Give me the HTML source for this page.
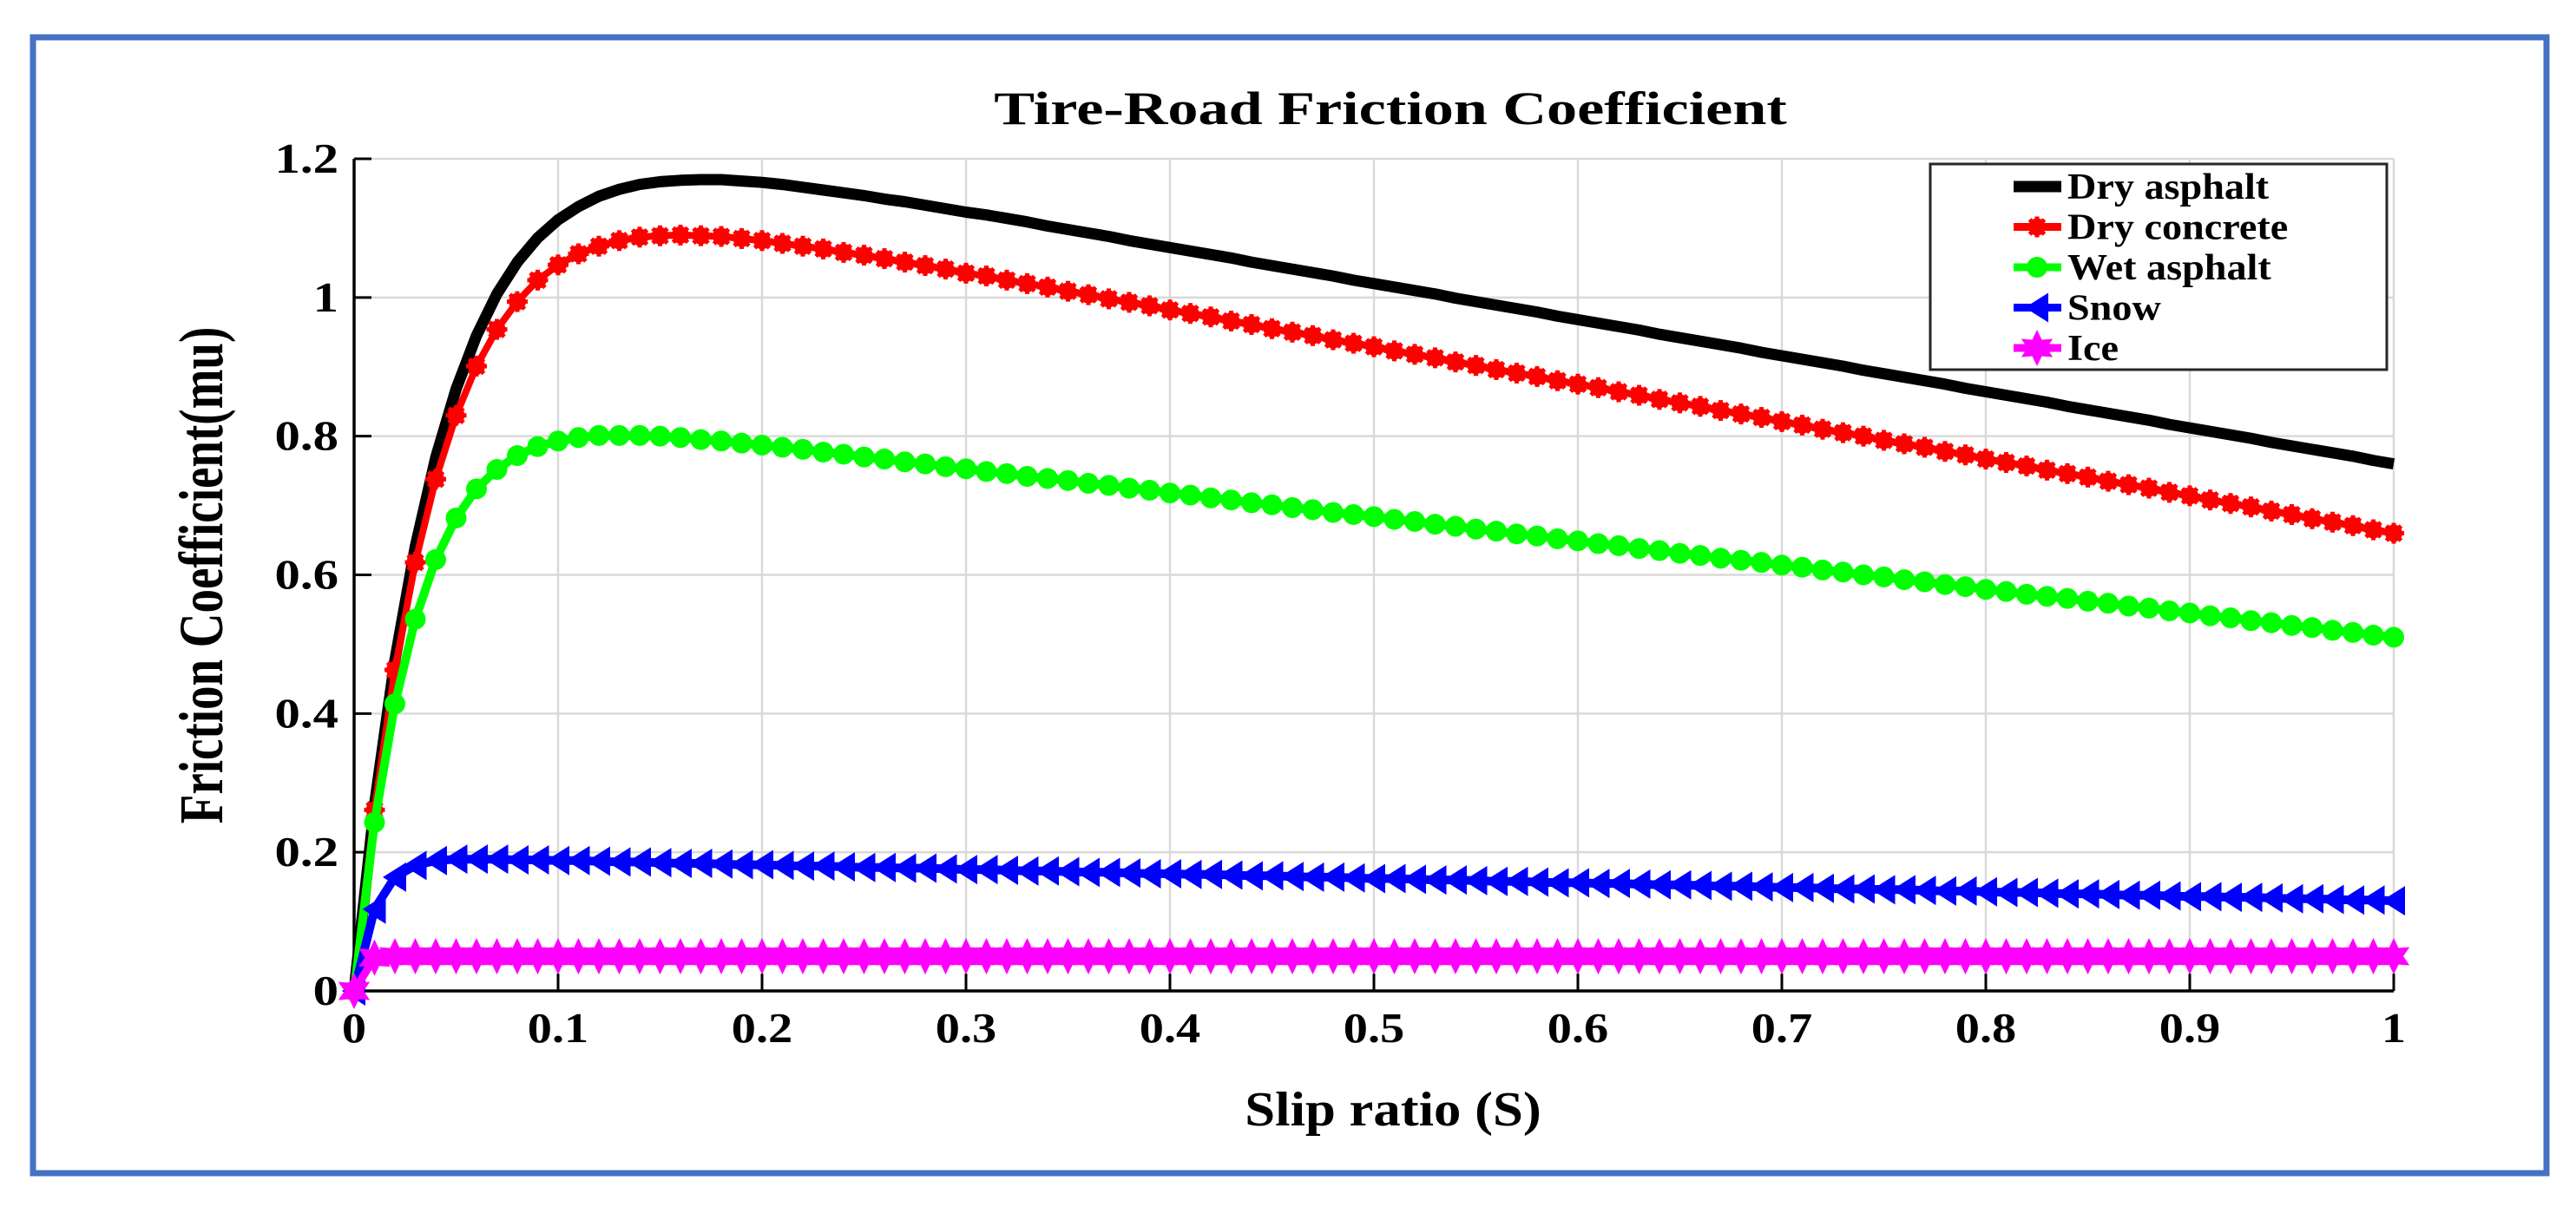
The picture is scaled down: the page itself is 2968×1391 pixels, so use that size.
<!DOCTYPE html>
<html><head><meta charset="utf-8"><style>
html,body{margin:0;padding:0;background:#fff;}
svg{display:block;}
text{font-family:"Liberation Serif",serif;font-weight:bold;fill:#000;}
</style></head><body>
<svg id="chart" width="2968" height="1391" viewBox="0 0 2968 1391" xmlns="http://www.w3.org/2000/svg">
<rect x="38" y="43" width="2896" height="1309" fill="#fff" stroke="#4472C4" stroke-width="7"/>
<g id="grid"></g>
<g id="axes"></g>
<g id="series"></g>
<text transform="translate(1602,143) scale(1.3,1)" font-size="54" text-anchor="middle">Tire-Road Friction Coefficient</text>
<text transform="translate(1605,1297) scale(1.12,1)" font-size="56" text-anchor="middle">Slip ratio (S)</text>
<text transform="translate(256,663) rotate(-90) scale(1,1.3)" font-size="55" text-anchor="middle">Friction Coefficient(mu)</text>
<g id="legend"></g>
</svg>
<script>
const slip = [0,0.01,0.02,0.03,0.04,0.05,0.06,0.07,0.08,0.09,0.1,0.11,0.12,0.13,0.14,0.15,0.16,0.17,0.18,0.19,0.2,0.21,0.22,0.23,0.24,0.25,0.26,0.27,0.28,0.29,0.3,0.31,0.32,0.33,0.34,0.35,0.36,0.37,0.38,0.39,0.4,0.41,0.42,0.43,0.44,0.45,0.46,0.47,0.48,0.49,0.5,0.51,0.52,0.53,0.54,0.55,0.56,0.57,0.58,0.59,0.6,0.61,0.62,0.63,0.64,0.65,0.66,0.67,0.68,0.69,0.7,0.71,0.72,0.73,0.74,0.75,0.76,0.77,0.78,0.79,0.8,0.81,0.82,0.83,0.84,0.85,0.86,0.87,0.88,0.89,0.9,0.91,0.92,0.93,0.94,0.95,0.96,0.97,0.98,0.99,1];
const dryAsphalt = [0,0.268,0.477,0.641,0.769,0.868,0.945,1.005,1.051,1.086,1.112,1.131,1.146,1.156,1.163,1.167,1.169,1.170,1.170,1.168,1.166,1.163,1.159,1.155,1.151,1.147,1.142,1.138,1.133,1.128,1.123,1.119,1.114,1.109,1.103,1.098,1.093,1.088,1.082,1.077,1.072,1.067,1.062,1.057,1.051,1.046,1.041,1.036,1.031,1.025,1.020,1.015,1.010,1.005,0.999,0.994,0.989,0.984,0.979,0.973,0.968,0.963,0.958,0.953,0.947,0.942,0.937,0.932,0.927,0.921,0.916,0.911,0.906,0.901,0.895,0.890,0.885,0.880,0.875,0.869,0.864,0.859,0.854,0.849,0.843,0.838,0.833,0.828,0.823,0.817,0.812,0.807,0.802,0.797,0.791,0.786,0.781,0.776,0.771,0.765,0.760];
const dryConcrete = [0,0.261,0.463,0.618,0.738,0.830,0.901,0.954,0.994,1.025,1.047,1.063,1.074,1.082,1.087,1.089,1.090,1.089,1.088,1.085,1.082,1.078,1.074,1.070,1.065,1.061,1.056,1.051,1.046,1.041,1.035,1.031,1.025,1.020,1.015,1.009,1.004,0.998,0.993,0.988,0.982,0.977,0.972,0.966,0.961,0.955,0.950,0.945,0.939,0.934,0.929,0.923,0.918,0.913,0.907,0.902,0.896,0.891,0.886,0.880,0.875,0.870,0.864,0.859,0.853,0.848,0.843,0.837,0.832,0.827,0.821,0.816,0.810,0.805,0.800,0.794,0.789,0.784,0.778,0.773,0.767,0.762,0.757,0.751,0.746,0.741,0.735,0.730,0.725,0.719,0.714,0.708,0.703,0.698,0.692,0.687,0.681,0.676,0.671,0.665,0.660];
const wetAsphalt = [0,0.243,0.414,0.536,0.622,0.682,0.724,0.752,0.772,0.785,0.793,0.798,0.801,0.801,0.801,0.800,0.798,0.795,0.793,0.790,0.787,0.784,0.781,0.777,0.774,0.770,0.767,0.763,0.760,0.756,0.753,0.749,0.746,0.742,0.739,0.736,0.732,0.729,0.725,0.722,0.718,0.715,0.711,0.708,0.704,0.701,0.697,0.694,0.690,0.687,0.684,0.680,0.677,0.673,0.670,0.666,0.663,0.659,0.656,0.652,0.649,0.645,0.642,0.638,0.635,0.631,0.628,0.624,0.621,0.618,0.614,0.611,0.607,0.604,0.600,0.597,0.593,0.590,0.586,0.583,0.579,0.576,0.572,0.569,0.566,0.562,0.559,0.555,0.552,0.548,0.545,0.541,0.538,0.534,0.531,0.527,0.524,0.520,0.517,0.513,0.510];
const snow = [0,0.118,0.164,0.181,0.188,0.190,0.190,0.190,0.189,0.189,0.188,0.188,0.187,0.186,0.186,0.185,0.184,0.184,0.183,0.182,0.182,0.181,0.180,0.180,0.179,0.178,0.178,0.177,0.177,0.176,0.175,0.175,0.174,0.173,0.173,0.172,0.171,0.171,0.170,0.169,0.169,0.168,0.168,0.167,0.166,0.166,0.165,0.164,0.164,0.163,0.162,0.162,0.161,0.160,0.160,0.159,0.158,0.158,0.157,0.156,0.156,0.155,0.155,0.154,0.153,0.153,0.152,0.151,0.151,0.150,0.149,0.149,0.148,0.147,0.147,0.146,0.146,0.145,0.144,0.144,0.143,0.142,0.142,0.141,0.140,0.140,0.139,0.138,0.138,0.137,0.136,0.136,0.135,0.135,0.134,0.133,0.133,0.132,0.131,0.131,0.130];
const ice = [0,0.048,0.05,0.05,0.05,0.05,0.05,0.05,0.05,0.05,0.05,0.05,0.05,0.05,0.05,0.05,0.05,0.05,0.05,0.05,0.05,0.05,0.05,0.05,0.05,0.05,0.05,0.05,0.05,0.05,0.05,0.05,0.05,0.05,0.05,0.05,0.05,0.05,0.05,0.05,0.05,0.05,0.05,0.05,0.05,0.05,0.05,0.05,0.05,0.05,0.05,0.05,0.05,0.05,0.05,0.05,0.05,0.05,0.05,0.05,0.05,0.05,0.05,0.05,0.05,0.05,0.05,0.05,0.05,0.05,0.05,0.05,0.05,0.05,0.05,0.05,0.05,0.05,0.05,0.05,0.05,0.05,0.05,0.05,0.05,0.05,0.05,0.05,0.05,0.05,0.05,0.05,0.05,0.05,0.05,0.05,0.05,0.05,0.05,0.05,0.05];
const xTicks = [0,0.1,0.2,0.3,0.4,0.5,0.6,0.7,0.8,0.9,1];
const xTickLabels = ["0","0.1","0.2","0.3","0.4","0.5","0.6","0.7","0.8","0.9","1"];
const yTicks = [0,0.2,0.4,0.6,0.8,1,1.2];
const yTickLabels = ["0","0.2","0.4","0.6","0.8","1","1.2"];
const seriesNames = ["Dry asphalt","Dry concrete","Wet asphalt","Snow","Ice"];

const NS="http://www.w3.org/2000/svg";
const L=408,R=2758,T=183,B=1142;
function xs(v){return L+v*(R-L);}
function ys(v){return B-(v/1.2)*(B-T);}
function mk(tag,attrs,parent){const e=document.createElementNS(NS,tag);for(const k in attrs)e.setAttribute(k,attrs[k]);parent.appendChild(e);return e;}
const grid=document.getElementById('grid'),axes=document.getElementById('axes'),ser=document.getElementById('series'),leg=document.getElementById('legend');

xTicks.forEach((t,i)=>{
  const g=mk('line',{x1:xs(t),x2:xs(t),y1:T,y2:B,stroke:'#d9d9d9','stroke-width':2.5},grid);
  
  
  const tk=mk('line',{x1:xs(t),x2:xs(t),y1:B,y2:B-20,stroke:'#000','stroke-width':3},axes);
  
  
  const tx=mk('text',{transform:`translate(${xs(t)},${B+59}) scale(1.15,1)`,'font-size':49,'text-anchor':'middle'},axes);
  tx.textContent=xTickLabels[i];
  
  
});
yTicks.forEach((t,i)=>{
  const g=mk('line',{x1:L,x2:R,y1:ys(t),y2:ys(t),stroke:'#d9d9d9','stroke-width':2.5},grid);
  
  
  const tk=mk('line',{x1:L,x2:L+20,y1:ys(t),y2:ys(t),stroke:'#000','stroke-width':3},axes);
  
  
  const tx=mk('text',{transform:`translate(${L-18},${ys(t)+16}) scale(1.2,1)`,'font-size':49,'text-anchor':'end'},axes);
  tx.textContent=yTickLabels[i];
  
  
});
const xa=mk('line',{x1:L,x2:R,y1:B,y2:B,stroke:'#000','stroke-width':3.5},axes);


const ya=mk('line',{x1:L,x2:L,y1:T,y2:B,stroke:'#000','stroke-width':3.5},axes);



function marker(type,cx,cy,color,parent){
  let e;
  if(type==='star'){
    e=mk('g',{},parent);
    mk('circle',{cx:cx,cy:cy,r:10,fill:color},e);
    for(let a=0;a<4;a++){const an=a*Math.PI/4;mk('line',{x1:cx-12*Math.cos(an),y1:cy-12*Math.sin(an),x2:cx+12*Math.cos(an),y2:cy+12*Math.sin(an),stroke:color,'stroke-width':5},e);}
  }else if(type==='circle'){
    e=mk('circle',{cx:cx,cy:cy,r:12,fill:color},parent);
  }else if(type==='tri'){
    e=mk('polygon',{points:`${cx-14},${cy} ${cx+13},${cy-17} ${cx+13},${cy+17}`,fill:color},parent);
  }else if(type==='hex'){
    let p=[];for(let k=0;k<12;k++){const r=k%2?11:21;const an=-Math.PI/2+k*Math.PI/6;p.push((cx+r*Math.cos(an)).toFixed(1)+','+(cy+r*Math.sin(an)).toFixed(1));}
    e=mk('polygon',{points:p.join(' '),fill:color},parent);
  }
  return e;
}
const defs=[
  {vals:dryAsphalt,color:'#000',w:13,m:null,name:'dry-asphalt'},
  {vals:dryConcrete,color:'#ff0000',w:8,m:'star',name:'dry-concrete'},
  {vals:wetAsphalt,color:'#00ff00',w:10,m:'circle',name:'wet-asphalt'},
  {vals:snow,color:'#0000ff',w:10,m:'tri',name:'snow'},
  {vals:ice,color:'#ff00ff',w:9,m:'hex',name:'ice'}
];
const legBg=mk('rect',{x:2224,y:189,width:526,height:237,fill:'#fff'},leg);


defs.forEach((d,si)=>{
  const g=mk('g',{},ser);
  
  
  const pts=d.vals.map((v,i)=>xs(slip[i]).toFixed(1)+','+ys(v).toFixed(1)).join(' ');
  const pl=mk('polyline',{points:pts,fill:'none',stroke:d.color,'stroke-width':d.w,'stroke-linejoin':'round'},g);
  
  
  if(d.m){d.vals.forEach((v,i)=>{const m=marker(d.m,xs(slip[i]),ys(v),d.color,g);
    
    });}
  const ly=215+si*46.5;
  const le=mk('g',{},leg);
  
  
  mk('line',{x1:2320,x2:2375,y1:ly,y2:ly,stroke:d.color,'stroke-width':d.m?9:13},le);
  if(d.m)marker(d.m,2347,ly,d.color,le);
  const t=mk('text',{transform:`translate(2382,${ly+14}) scale(1.1,1)`,'font-size':42},le);
  t.textContent=seriesNames[si];
});
const box=mk('rect',{x:2224,y:189,width:526,height:237,fill:'none',stroke:'#262626','stroke-width':3},leg);


</script>
</body></html>
